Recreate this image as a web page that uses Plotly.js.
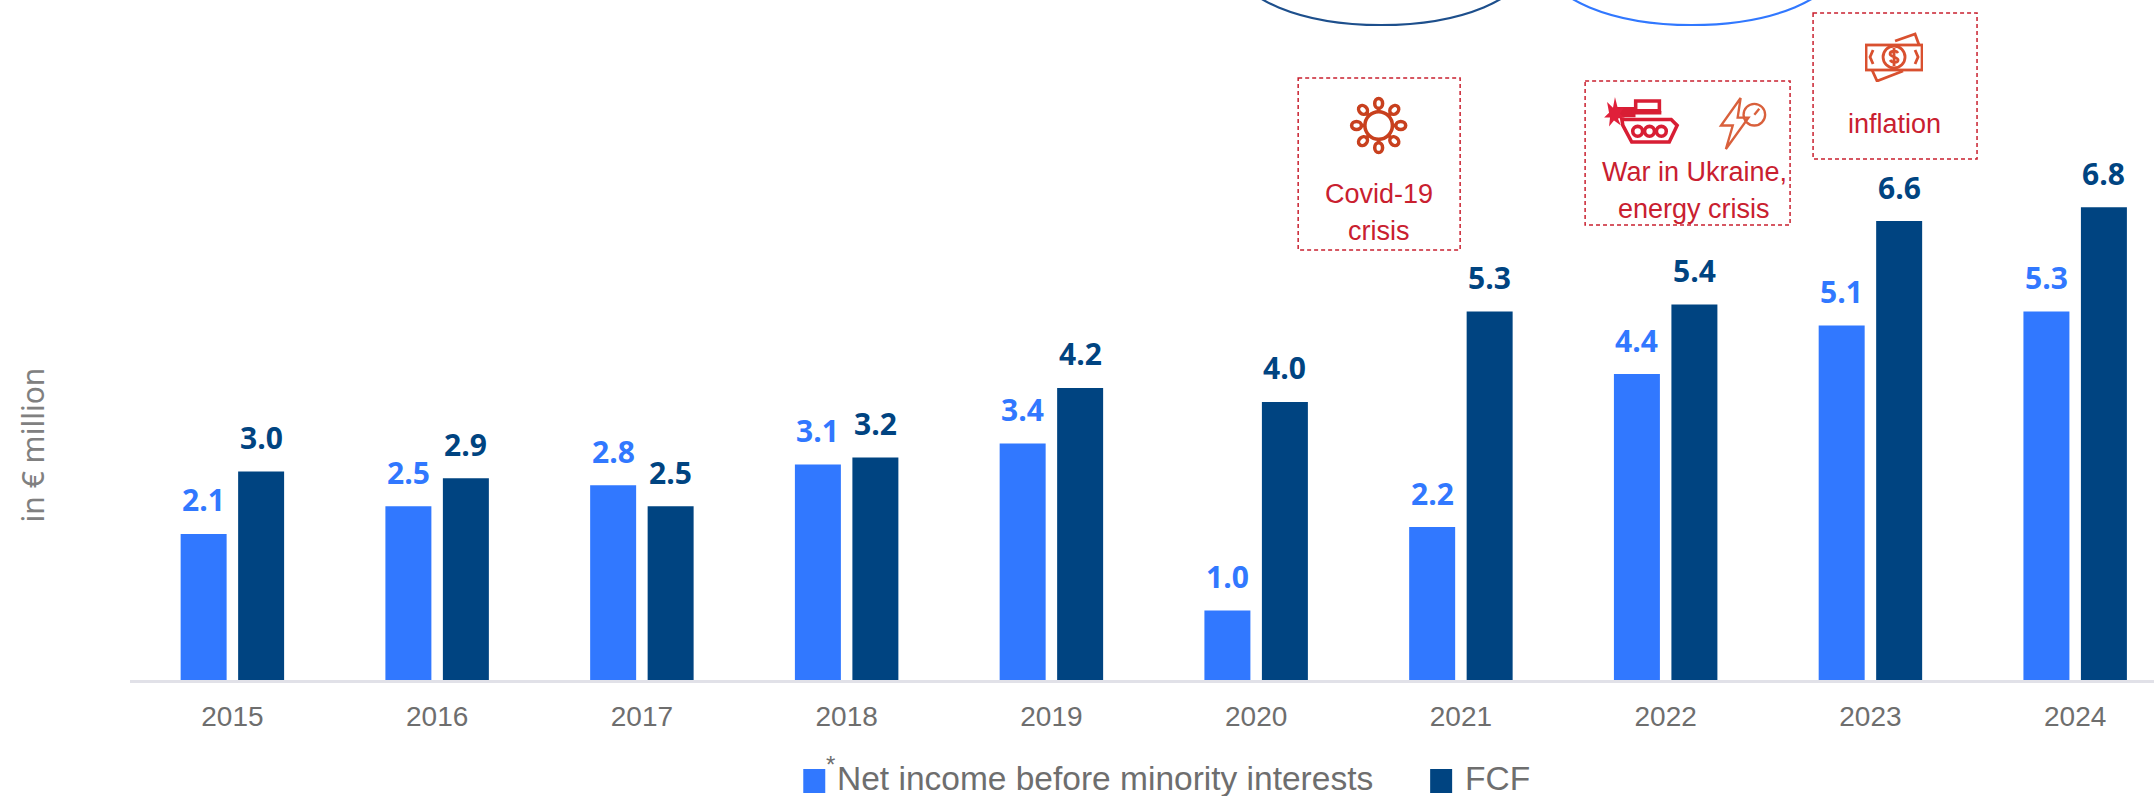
<!DOCTYPE html>
<html><head><meta charset="utf-8">
<script src="https://cdn.plot.ly/plotly-3.0.1.min.js"></script>
<style>html,body{margin:0;padding:0;background:#fff;overflow:hidden}#c{width:2154px;height:797px}</style>
</head><body><div id="c"></div>
<script>
const years = ['2015','2016','2017','2018','2019','2020','2021','2022','2023','2024'];
const netIncome = [2.1,2.5,2.8,3.1,3.4,1.0,2.2,4.4,5.1,5.3];
const fcf = [3.0,2.9,2.5,3.2,4.2,4.0,5.3,5.4,6.6,6.8];
const netName = 'Net income before minority interests';
const fcfName = 'FCF';
const yTitle = 'in € million';
const BLUE = '#3178ff', NAVY = '#004481', RED = '#c9202f', GREY = '#6e6e6e';
const W = 2154, H = 797, L = 129.6, B = 117;
const px = x => (x - L) / (W - L), py = y => 1 - y / (H - B);   // page pixels to paper coordinates

const traces = [
  {type:'bar', name:netName, x:years, y:netIncome, marker:{color:BLUE}, hoverinfo:'x+y'},
  {type:'bar', name:fcfName, x:years, y:fcf, marker:{color:NAVY}, hoverinfo:'x+y'}
];
const barOffset = 0.1404;
const valueFont = c => ({family:'"Open Sans", sans-serif', size:30, color:c, weight:700});
const valueLabels = [];
years.forEach((yr,i) => {
  valueLabels.push({xref:'x', yref:'y', x:i-barOffset, y:netIncome[i], yshift:34, text:netIncome[i].toFixed(1), showarrow:false, font:valueFont(BLUE), yanchor:'middle'});
  valueLabels.push({xref:'x', yref:'y', x:i+barOffset, y:fcf[i], yshift:34, text:fcf[i].toFixed(1), showarrow:false, font:valueFont(NAVY), yanchor:'middle'});
});
const note = (x,y,text,size,color,extra) => Object.assign({xref:'paper', yref:'paper', x:px(x), y:py(y), text, showarrow:false,
  font:{family:'"Liberation Sans", sans-serif', size, color}, xanchor:'center', yanchor:'middle'}, extra||{});
const notes = [
  note(1379,194,'Covid-19',27,RED), note(1379,231,'crisis',27,RED),
  note(1694,172,'War in Ukraine,',27,RED), note(1694,209,'energy crisis',27,RED),
  note(1894,124,'inflation',27,RED),
  Object.assign(note(32,445,yTitle,30,'#808080',{textangle:-90}), {font:{family:'"Noto Sans", sans-serif', size:30, color:'#808080'}}),
  note(835,778,netName,33.5,GREY,{xanchor:'left', height:36}),
  note(824,764,'*',24,GREY,{xanchor:'left'}),
  note(1463,778,fcfName,33.5,GREY,{xanchor:'left', height:36})
];
const rect = (x0,y0,x1,y1) => ({type:'rect', xref:'paper', yref:'paper', x0:px(x0), x1:px(x1), y0:py(y0), y1:py(y1), line:{color:RED, width:1.5, dash:'4px,3px'}, fillcolor:'rgba(0,0,0,0)'});
const swatch = (x0,y0,x1,y1,c) => ({type:'rect', xref:'paper', yref:'paper', x0:px(x0), x1:px(x1), y0:py(y0), y1:py(y1), line:{width:0}, fillcolor:c});
const ring = (cx,cy,a,b,c) => ({type:'circle', xref:'paper', yref:'paper', x0:px(cx-a), x1:px(cx+a), y0:py(cy-b), y1:py(cy+b), line:{color:c, width:2.2}});
const shapes = [
  rect(1298,78,1460,250), rect(1585,81,1790,225), rect(1813,13,1977,159),
  swatch(803,769,825,793,BLUE), swatch(1430,769,1452,793,NAVY),
  ring(1381,-35,145,60,'#1d4f8c'), ring(1692,-35,145,60,BLUE)
];
const svg = (w,h,body) => 'data:image/svg+xml;utf8,' + encodeURIComponent(`<svg xmlns="http://www.w3.org/2000/svg" viewBox="0 0 ${w} ${h}" width="${w*4}" height="${h*4}">${body}</svg>`);
const spike = a => `<g transform="rotate(${a} 30 30)"><line x1="30" y1="16" x2="30" y2="12" /><ellipse cx="30" cy="7.5" rx="4" ry="5"/></g>`;
const virus = svg(60,60,`<g fill="none" stroke="#c8401e" stroke-width="3.6"><circle cx="30" cy="30" r="14"/>${[0,45,90,135,180,225,270,315].map(spike).join('')}</g>`);
const tank = svg(78,50,`<g fill="none" stroke="#d81e34" stroke-width="3.6"><path d="M32 5h24v10H32z"/><path d="M16 17h42" /><path d="M14 13h16v7H14z" fill="#d81e34"/><path d="M18 24h50l6 6-8 17H28l-9-17z"/><circle cx="34" cy="36" r="5" /><circle cx="46" cy="36" r="5"/><circle cx="58" cy="36" r="5"/></g><path d="M3 6l6 6 2-11 3 12 6-1-4 6 5 4-7 1 3 7-7-5-5 6 1-9-6 0 5-5z" fill="#e0203a"/>`);
const bolt = svg(52,56,`<g fill="none" stroke="#d9603c" stroke-width="2.4"><path d="M24 2L4 30h12L9 54 32 22H21z"/><circle cx="38" cy="19" r="11"/><path d="M38 19l5-6"/></g>`);
const money = svg(58,50,`<g fill="none" stroke="#d9502f" stroke-width="2.8"><path d="M30 9l20-7 4 11"/><path d="M7 38l5 11 26-10"/><rect x="1" y="13" width="56" height="25" fill="#fff"/><circle cx="29" cy="25" r="11"/><path d="M33 21c-2-3-8-2-8 1s8 3 8 6-6 3-8 0M29 16v18"/><path d="M8 18l-3 7 3 7M50 18l3 7-3 7"/></g>`);
const img = (src,x0,y0,x1,y1) => ({source:src, xref:'paper', yref:'paper', x:px(x0), y:py(y0), sizex:(x1-x0)/(W-L), sizey:(y1-y0)/(H-B), xanchor:'left', yanchor:'top', sizing:'stretch', layer:'above'});
const images = [img(virus,1349,96,1408,155), img(tank,1604,96,1681,145), img(bolt,1717,96,1768,151), img(money,1865,32,1923,82)];

const layout = {
  width:W, height:H, margin:{l:L, r:0, t:0, b:B, pad:0}, paper_bgcolor:'#fff', plot_bgcolor:'#fff',
  barmode:'group', bargap:0.4385, bargroupgap:0.2, showlegend:false,
  xaxis:{type:'category', categoryorder:'array', categoryarray:years, range:[-0.5,9.385], showgrid:false, showline:true, linecolor:'#e1e1e8', linewidth:2.5,
    ticks:'', tickfont:{family:'"Liberation Sans", sans-serif', size:28, color:GREY}, ticklabelstandoff:10, fixedrange:true},
  yaxis:{range:[0,9.78], visible:false, fixedrange:true},
  annotations:valueLabels.concat(notes), shapes, images
};
Plotly.newPlot('c', traces, layout, {displayModeBar:false, staticPlot:true});
</script></body></html>
